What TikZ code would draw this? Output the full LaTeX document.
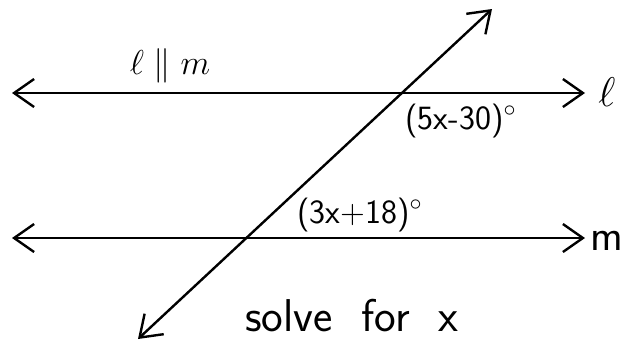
\documentclass[tikz,border=0pt]{standalone}
\usetikzlibrary{arrows.meta}
\begin{document}
\begin{tikzpicture}[x=0.5pt,y=-0.5pt,>={Straight Barb[length=10pt,width=14pt,line width=1.2pt]},
  line/.style={<->,line width=1.2pt},
  lbl/.style={font=\fontsize{17}{20}\selectfont\sffamily,inner sep=0pt}]
  \useasboundingbox (0,0) rectangle (630,344);
  % lines l and m, and the transversal
  \coordinate (lw) at (12,93); \coordinate (le) at (585,93);
  \coordinate (mw) at (12,238); \coordinate (me) at (585,238);
  \coordinate (tn) at (492,9); \coordinate (ts) at (138,339);
  \draw[line] (lw) -- (le);
  \draw[line] (mw) -- (me);
  \draw[line] (ts) -- (tn);
  \node[lbl,font=\fontsize{22}{26}\selectfont] (lname) at (607,92) {$\ell$};
  \node[lbl,font=\fontsize{22}{26}\selectfont\sffamily] (mname) at (607,241) {m};
  \node[lbl,font=\fontsize{19}{22}\selectfont] (par) at (170,66) {$\ell \parallel m$};
  \node[lbl] (angA) at (461,121) {(5x-30)$^\circ$};
  \node[lbl] (angB) at (360,215) {(3x+18)$^\circ$};
  \node[lbl,font=\fontsize{23}{26}\selectfont\sffamily] (task) at (352,316) {solve\ \ for\ \ x};
\end{tikzpicture}
\end{document}
